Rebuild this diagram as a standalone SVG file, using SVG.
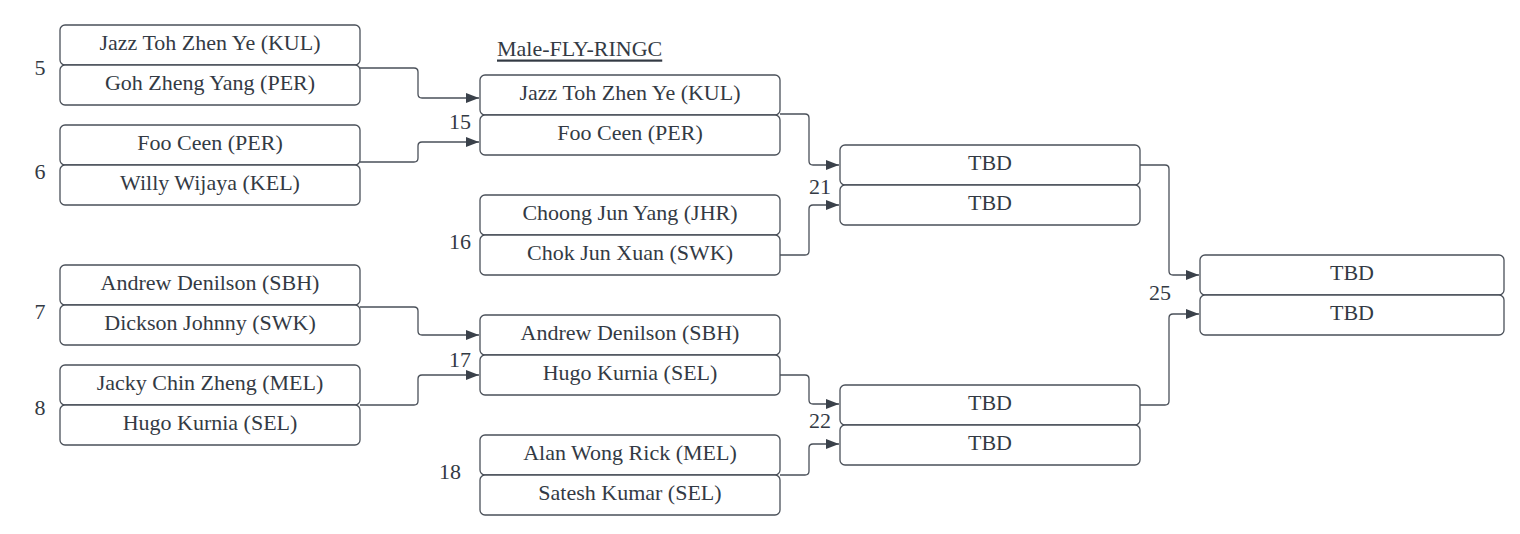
<svg xmlns="http://www.w3.org/2000/svg" width="1520" height="534" viewBox="0 0 1520 534">
<style>
.b{fill:#fff;stroke:#4a5059;stroke-width:1.3}
.t{font-family:"Liberation Serif",serif;font-size:22px;fill:#333a44;text-anchor:middle;dominant-baseline:central}
.n{font-family:"Liberation Serif",serif;font-size:22px;fill:#333a44;text-anchor:middle;dominant-baseline:central}
.c{fill:none;stroke:#4a5059;stroke-width:1.3}
</style>
<defs>
<marker id="a" markerWidth="13" markerHeight="10" refX="13" refY="5" orient="auto" markerUnits="userSpaceOnUse">
<path d="M0,0 L13,5 L0,10 Z" fill="#3a414a"/>
</marker>
</defs>
<rect width="1520" height="534" fill="#fff"/>
<text x="497" y="48" style="font-family:'Liberation Serif',serif;font-size:22px;fill:#333a44;dominant-baseline:central" text-decoration="underline">Male-FLY-RINGC </text>
<g id="connectors">
<path class="c" marker-end="url(#a)" d="M360,68 H414 Q418,68 418,72 V94 Q418,98 422,98 H479"/>
<path class="c" marker-end="url(#a)" d="M360,162 H414 Q418,162 418,158 V146 Q418,142 422,142 H479"/>
<path class="c" marker-end="url(#a)" d="M360,307 H414 Q418,307 418,311 V331 Q418,335 422,335 H479"/>
<path class="c" marker-end="url(#a)" d="M360,405 H414 Q418,405 418,401 V379 Q418,375 422,375 H479"/>
<path class="c" marker-end="url(#a)" d="M780,114 H805 Q809,114 809,118 V161 Q809,165 813,165 H839"/>
<path class="c" marker-end="url(#a)" d="M780,255 H805 Q809,255 809,251 V209 Q809,205 813,205 H839"/>
<path class="c" marker-end="url(#a)" d="M780,375 H805 Q809,375 809,379 V400 Q809,404 813,404 H839"/>
<path class="c" marker-end="url(#a)" d="M780,475 H805 Q809,475 809,471 V448 Q809,444 813,444 H839"/>
<path class="c" marker-end="url(#a)" d="M1140,165 H1165 Q1169,165 1169,169 V271 Q1169,275 1173,275 H1199"/>
<path class="c" marker-end="url(#a)" d="M1140,405 H1165 Q1169,405 1169,401 V318 Q1169,314 1173,314 H1199"/>
</g>
<g id="m5">
<rect class="b" x="60" y="25" width="300" height="40" rx="5"/><text class="t" x="210" y="42.5">Jazz Toh Zhen Ye (KUL)</text>
<rect class="b" x="60" y="65" width="300" height="40" rx="5"/><text class="t" x="210" y="82.5">Goh Zheng Yang (PER)</text>
<text class="n" x="40" y="67">5</text>
</g>
<g id="m6">
<rect class="b" x="60" y="125" width="300" height="40" rx="5"/><text class="t" x="210" y="142.5">Foo Ceen (PER)</text>
<rect class="b" x="60" y="165" width="300" height="40" rx="5"/><text class="t" x="210" y="182">Willy Wijaya (KEL)</text>
<text class="n" x="40" y="171">6</text>
</g>
<g id="m7">
<rect class="b" x="60" y="265" width="300" height="40" rx="5"/><text class="t" x="210" y="282.5">Andrew Denilson (SBH)</text>
<rect class="b" x="60" y="305" width="300" height="40" rx="5"/><text class="t" x="210" y="322.5">Dickson Johnny (SWK)</text>
<text class="n" x="40" y="311">7</text>
</g>
<g id="m8">
<rect class="b" x="60" y="365" width="300" height="40" rx="5"/><text class="t" x="210" y="382.5">Jacky Chin Zheng (MEL)</text>
<rect class="b" x="60" y="405" width="300" height="40" rx="5"/><text class="t" x="210" y="422.5">Hugo Kurnia (SEL)</text>
<text class="n" x="40" y="407">8</text>
</g>
<g id="m15">
<rect class="b" x="480" y="75" width="300" height="40" rx="5"/><text class="t" x="630" y="92.5">Jazz Toh Zhen Ye (KUL)</text>
<rect class="b" x="480" y="115" width="300" height="40" rx="5"/><text class="t" x="630" y="132.5">Foo Ceen (PER)</text>
<text class="n" x="460" y="121">15</text>
</g>
<g id="m16">
<rect class="b" x="480" y="195" width="300" height="40" rx="5"/><text class="t" x="630" y="212.5">Choong Jun Yang (JHR)</text>
<rect class="b" x="480" y="235" width="300" height="40" rx="5"/><text class="t" x="630" y="252.5">Chok Jun Xuan (SWK)</text>
<text class="n" x="460" y="241">16</text>
</g>
<g id="m17">
<rect class="b" x="480" y="315" width="300" height="40" rx="5"/><text class="t" x="630" y="332.5">Andrew Denilson (SBH)</text>
<rect class="b" x="480" y="355" width="300" height="40" rx="5"/><text class="t" x="630" y="372.5">Hugo Kurnia (SEL)</text>
<text class="n" x="460" y="359">17</text>
</g>
<g id="m18">
<rect class="b" x="480" y="435" width="300" height="40" rx="5"/><text class="t" x="630" y="452.5">Alan Wong Rick (MEL)</text>
<rect class="b" x="480" y="475" width="300" height="40" rx="5"/><text class="t" x="630" y="492.5">Satesh Kumar (SEL)</text>
<text class="n" x="450" y="471">18</text>
</g>
<g id="m21">
<rect class="b" x="840" y="145" width="300" height="40" rx="5"/><text class="t" x="990" y="162.5">TBD</text>
<rect class="b" x="840" y="185" width="300" height="40" rx="5"/><text class="t" x="990" y="202.5">TBD</text>
<text class="n" x="820" y="186">21</text>
</g>
<g id="m22">
<rect class="b" x="840" y="385" width="300" height="40" rx="5"/><text class="t" x="990" y="402.5">TBD</text>
<rect class="b" x="840" y="425" width="300" height="40" rx="5"/><text class="t" x="990" y="442.5">TBD</text>
<text class="n" x="820" y="420">22</text>
</g>
<g id="m25">
<rect class="b" x="1200" y="255" width="304" height="40" rx="5"/><text class="t" x="1352" y="272.5">TBD</text>
<rect class="b" x="1200" y="295" width="304" height="40" rx="5"/><text class="t" x="1352" y="312.5">TBD</text>
<text class="n" x="1160" y="292">25</text>
</g>
</svg>
